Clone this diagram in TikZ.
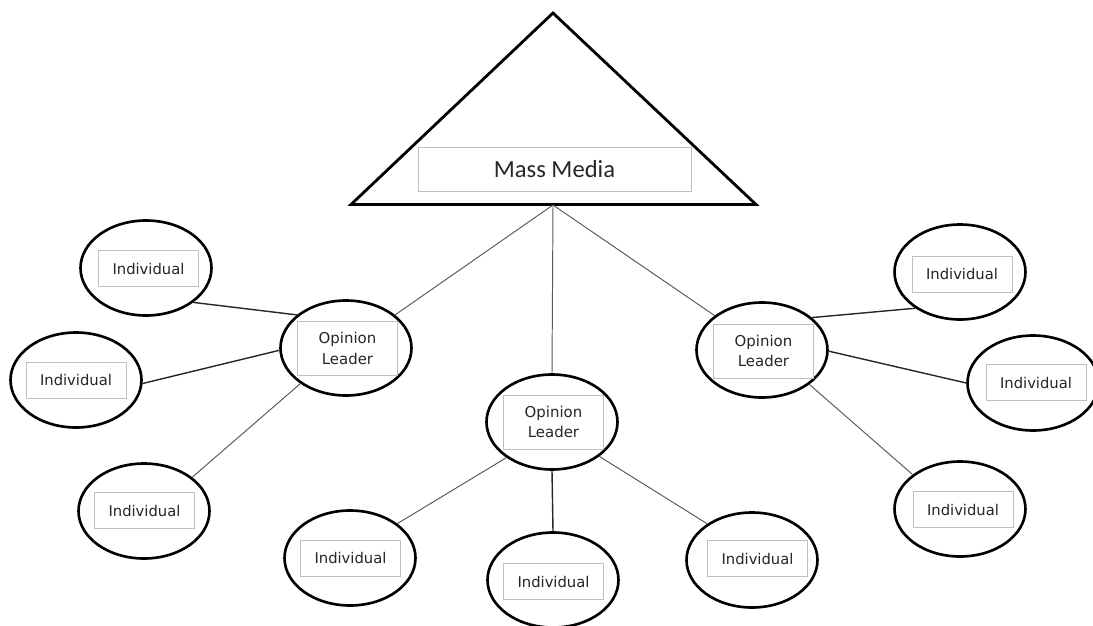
\documentclass[tikz,border=0pt]{standalone}
\usepackage{fontspec}
\setmainfont{DejaVu Sans}
\newfontfamily\calib{Carlito}
\usetikzlibrary{shapes.geometric}
\tikzset{
  ell/.style={ellipse, draw=black, line width=1.5pt, minimum width=2.62cm, minimum height=1.9cm, inner sep=0pt, fill=white},
  lbl/.style={draw=black!25, line width=0.5pt, rectangle, minimum width=2.0cm, minimum height=0.72cm, inner sep=0pt, font=\fontsize{8.4}{10}\selectfont, text=black!85},
  olbl/.style={lbl, minimum height=1.08cm, align=center, font=\fontsize{8.5}{11.7}\selectfont},
  dk/.style={draw=black!85, line width=0.8pt},
  lt/.style={draw=black!65, line width=0.55pt},
}
\begin{document}
\begin{tikzpicture}[x=0.02cm, y=-0.02cm]
\useasboundingbox (0,0) rectangle (1093,626);
% triangle
\coordinate (apex) at (553,13);
\coordinate (bl) at (351,204.5);
\coordinate (br) at (756,204.5);
\coordinate (mid) at (553,205);
\draw[line width=1.6pt, line join=miter] (apex) -- (br) -- (bl) -- cycle;
\node[draw=black!25, line width=0.5pt, minimum width=5.46cm, minimum height=0.88cm, inner sep=0pt, font=\calib\fontsize{14}{16}\selectfont, text=black!85] (mm) at (554.5,169) {Mass Media};
% opinion leaders
\node[ell] (OL1) at (346,348) {};
\node[ell] (OL2) at (552,422) {};
\node[ell] (OL3) at (762,350) {};
\node[olbl] (OL1t) at (347.5,348.5) {Opinion\\Leader};
\node[olbl] (OL2t) at (553.5,422) {Opinion\\Leader};
\node[olbl] (OL3t) at (763.5,351) {Opinion\\Leader};
% individuals
\node[ell] (I1) at (146,268) {};
\node[ell] (I2) at (76,380) {};
\node[ell] (I3) at (144,511) {};
\node[ell] (I4) at (350,558) {};
\node[ell] (I5) at (553,580) {};
\node[ell] (I6) at (752,560) {};
\node[ell] (I7) at (960,272) {};
\node[ell] (I8) at (1033,383) {};
\node[ell] (I9) at (960,509) {};
\node[lbl] (I1t) at (148.5,268.5) {Individual};
\node[lbl] (I2t) at (76,380) {Individual};
\node[lbl] (I3t) at (144.5,510.5) {Individual};
\node[lbl] (I4t) at (350.5,558) {Individual};
\node[lbl] (I5t) at (553.5,581.5) {Individual};
\node[lbl] (I6t) at (757.5,558.5) {Individual};
\node[lbl] (I7t) at (962,274) {Individual};
\node[lbl] (I8t) at (1036,382.5) {Individual};
\node[lbl] (I9t) at (963,509.5) {Individual};
% connectors from mass media
\draw[lt] (mid) -- (OL1.34);
\draw[lt] (mid) -- (OL2.north);
\draw[lt] (mid) -- (OL3.144.5);
% OL1
\draw[dk] (OL1.146) -- (I1.-36.7);
\draw[dk] (OL1.182) -- (I2.-3);
\draw[lt] (OL1.218.5) -- (I3.35.5);
% OL2
\draw[lt] (OL2.218) -- (I4.36);
\draw[dk] (OL2.south) -- (I5.north);
\draw[lt] (OL2.-36) -- (I6.141);
% OL3
\draw[dk] (OL3.33) -- (I7.219);
\draw[dk] (OL3.-1) -- (I8.180);
\draw[lt] (OL3.-36) -- (I9.144);
\end{tikzpicture}
\end{document}
